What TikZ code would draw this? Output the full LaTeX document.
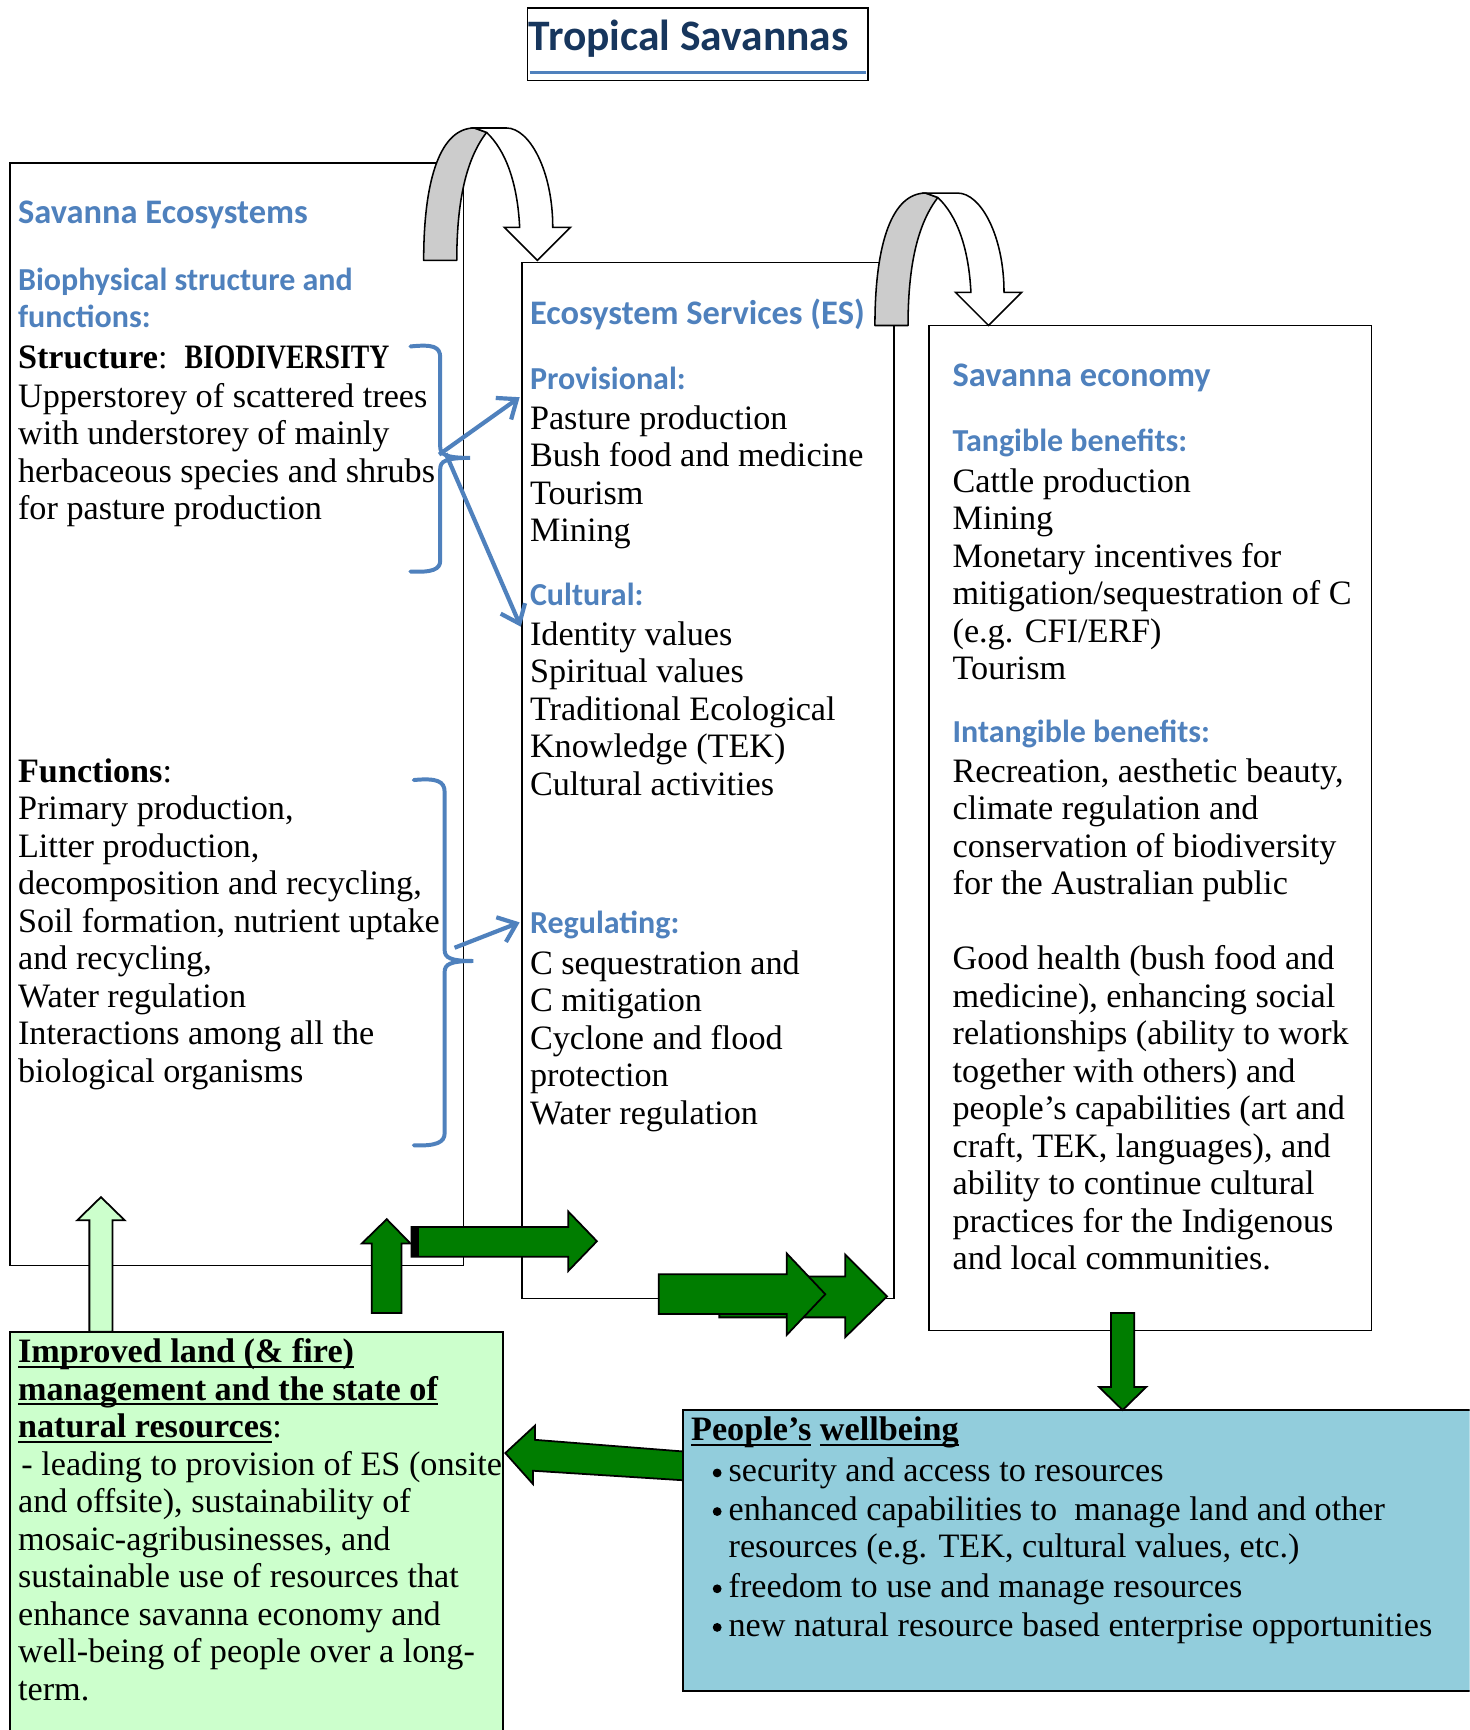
\documentclass[tikz,border=0pt]{standalone}
\usepackage{fontspec}
\setmainfont{Liberation Serif}
\newfontfamily\hfont{Carlito}
\usepackage{graphicx}
\usetikzlibrary{arrows.meta}
\definecolor{hblue}{RGB}{79,129,189}
\definecolor{tnavy}{RGB}{23,54,93}
\definecolor{agreen}{RGB}{0,125,0}
\definecolor{lgreen}{RGB}{204,255,204}
\definecolor{lblue}{RGB}{146,205,220}
\definecolor{agray}{RGB}{204,204,204}
\newcommand\myul[1]{\setbox0\hbox{#1}\rlap{\rule[-2.3pt]{\wd0}{0.8pt}}\box0}
\tikzset{
 txt/.style={anchor=base west, inner sep=0pt, font=\fontsize{15.5}{17}\selectfont},
 bhead/.style={anchor=base west, inner sep=0pt, text=hblue, font=\hfont\bfseries\fontsize{15.6}{17}\selectfont},
 bsub/.style={anchor=base west, inner sep=0pt, text=hblue, font=\hfont\bfseries\fontsize{14.5}{17}\selectfont},
 box/.style={draw=black, line width=0.75pt},
 garrow/.style={fill=agreen, draw=black, line width=0.8pt, line join=miter},
 barrow/.style={draw=hblue, line width=1.9pt, -{Straight Barb[length=7.5pt,width=12pt]}},
 brace/.style={draw=hblue, line width=1.8pt, line cap=round},
 curvarrow/.pic={
   \filldraw[fill=agray, draw=black, line width=0.7pt, line join=round]
     (384,236) .. controls (384,160) and (400,116) .. (430,116) -- (441,120)
     .. controls (425,141) and (414,175) .. (414,236) -- cycle;
   \filldraw[fill=white, draw=black, line width=0.7pt, line join=miter]
     (430,116) -- (459,116) .. controls (480,116) and (501,155) .. (501,206)
     -- (517,206) -- (487,236) -- (457,206) -- (471,206)
     .. controls (469,165) and (458,136) .. (441,120) -- cycle;
 }
}
\newcommand\txtlines[4]{\foreach \t [count=\i from 0] in {#4} {\node[txt] (#1\i) at (#2,#3+\i*34) {\t};}}
\begin{document}
\begin{tikzpicture}[x=0.5pt,y=-0.5pt]
\useasboundingbox (0,0) rectangle (1332,1568);
\clip (0,0) rectangle (1332,1568);
\fill[white] (0,0) rectangle (1332,1568);

% title
\draw[line width=0.8pt] (478,7) rectangle (787,73);
\draw[hblue, line width=1.2pt] (480,66) -- (785,66);
\node[anchor=base west, inner sep=0pt, text=tnavy, font=\hfont\bfseries\fontsize{19.7}{22}\selectfont] (title) at (479,46) {Tropical Savannas};

% main boxes
\draw[box] (9,148) rectangle (420,1147);
\draw[box] (473,238) rectangle (810,1177);
\draw[box] (842,295) rectangle (1243,1206);

% curved arrows
\pic (ca1) at (0,0) {curvarrow};
\pic (ca2) at (409,59) {curvarrow};

% left box text
\node[bhead] (se) at (16,203) {Savanna Ecosystems};
\node[bsub] (bio1) at (16,263) {Biophysical structure and};
\node[bsub] (bio2) at (16,297) {functions:};
\node[txt] (struct) at (16,334) {\textbf{Structure}:\ \ \textbf{\scalebox{0.81}[1]{BIODIVERSITY}}};
\txtlines{up}{16}{369}{{Upperstorey of scattered trees},{with understorey of mainly},{herbaceous species and shrubs},{for pasture production}}
\node[txt] (fun) at (16,709) {\textbf{Functions}:};
\txtlines{fn}{16}{743}{{Primary production,},{Litter production,},{decomposition and recycling,},{Soil formation, nutrient uptake},{and recycling,},{Water regulation},{Interactions among all the},{biological organisms}}

% middle box text
\node[bhead] (es) at (480,294) {Ecosystem Services (ES)};
\node[bsub] (prov) at (480,353) {Provisional:};
\txtlines{pv}{480}{389}{{Pasture production},{Bush food and medicine},{Tourism},{Mining}}
\node[bsub] (cult) at (480,549) {Cultural:};
\txtlines{cu}{480}{585}{{Identity values},{Spiritual values},{Traditional Ecological},{Knowledge (TEK)},{Cultural activities}}
\node[bsub] (reg) at (480,846) {Regulating:};
\txtlines{rg}{480}{883}{{C sequestration and},{C mitigation},{Cyclone and flood},{protection},{Water regulation}}

% right box text
\node[bhead] (sec) at (863,350) {Savanna economy};
\node[bsub] (tan) at (863,409) {Tangible benefits:};
\txtlines{tb}{863}{446}{{Cattle production},{Mining},{Monetary incentives for},{mitigation/sequestration of C},{(e.g. CFI/ERF)},{Tourism}}
\node[bsub] (intan) at (863,673) {Intangible benefits:};
\txtlines{ib}{863}{709}{{Recreation, aesthetic beauty,},{climate regulation and},{conservation of biodiversity},{for the Australian public}}
\txtlines{gh}{863}{879}{{Good health (bush food and},{medicine), enhancing social},{relationships (ability to work},{together with others) and},{people’s capabilities (art and},{craft, TEK, languages), and},{ability to continue cultural},{practices for the Indigenous},{and local communities.}}

% braces and blue arrows
\draw[brace] (372,314) .. controls (392,312) and (399,314) .. (399,324) -- (399,405)
  .. controls (399,412) and (404,415) .. (426,415)
  .. controls (404,415) and (399,418) .. (399,425) -- (399,508)
  .. controls (399,516) and (392,519) .. (372,518);
\draw[brace] (375,707) .. controls (396,705) and (403,708) .. (403,718) -- (403,861)
  .. controls (403,868) and (408,871) .. (429,871)
  .. controls (408,871) and (403,874) .. (403,881) -- (403,1027)
  .. controls (403,1035) and (396,1039) .. (375,1038);
\coordinate (a1s) at (398,412); \coordinate (a1e) at (471,360);
\coordinate (a2s) at (404,411); \coordinate (a2e) at (472,568);
\coordinate (a3s) at (412,859); \coordinate (a3e) at (471,836);
\draw[barrow] (a1s) -- (a1e);
\draw[barrow] (a2s) -- (a2e);
\draw[barrow] (a3s) -- (a3e);

% green box
\filldraw[fill=lgreen, draw=black, line width=0.75pt] (9,1207) rectangle (456,1590);
\txtlines{gb}{16}{1235}{{\textbf{\myul{Improved land (\& fire)}}},{\textbf{\myul{management and the state of}}},{\textbf{\myul{natural resources}}:},{\hspace{1.5pt}- leading to provision of ES (onsite},{and offsite), sustainability of},{mosaic-agribusinesses, and},{sustainable use of resources that},{enhance savanna economy and},{well-being of people over a long-},{term.}}

% left arrow (wellbeing -> green box)
\filldraw[garrow] (625,1316) -- (485,1305) -- (485,1292) -- (458,1317) -- (483,1345) -- (483,1333) -- (625,1342) -- cycle;

% wellbeing box
\filldraw[fill=lblue, draw=black, line width=0.9pt] (619,1278) rectangle (1345,1533);
\node[txt] (pw) at (626,1306) {\textbf{\myul{People’s}} \textbf{\myul{wellbeing}}};
\foreach \y in {1343,1378,1448,1483} {\fill[black] (650,\y-8) circle (4);}
\node[txt] (w1) at (660,1343) {security and access to resources};
\node[txt] (w2) at (660,1378) {enhanced capabilities to\ \ manage land and other};
\node[txt] (w3) at (660,1412) {resources (e.g. TEK, cultural values, etc.)};
\node[txt] (w4) at (660,1448) {freedom to use and manage resources};
\node[txt] (w5) at (660,1483) {new natural resource based enterprise opportunities};

% green block arrows
\filldraw[fill=lgreen, draw=black, line width=0.8pt, line join=miter] (81,1207) -- (81,1106) -- (70,1106) -- (91.5,1085) -- (113,1106) -- (102,1106) -- (102,1207) -- cycle;
\filldraw[garrow] (337,1190) -- (337,1127) -- (328,1127) -- (350.5,1105) -- (372,1127) -- (364,1127) -- (364,1190) -- cycle;
\filldraw[garrow] (373,1112) -- (515,1112) -- (515,1098) -- (541,1125) -- (515,1152) -- (515,1139) -- (373,1139) -- cycle;
\fill[black] (373,1112) rectangle (380,1139);
\filldraw[garrow] (652,1157) -- (766,1157) -- (766,1137) -- (804,1175) -- (766,1212) -- (766,1194) -- (652,1194) -- cycle;
\filldraw[garrow] (597,1155) -- (713,1155) -- (713,1136) -- (748,1173) -- (713,1210) -- (713,1191) -- (597,1191) -- cycle;
\filldraw[garrow] (1007,1190) -- (1028,1190) -- (1028,1257) -- (1039,1257) -- (1017.5,1278) -- (996,1257) -- (1007,1257) -- cycle;
\end{tikzpicture}
\end{document}
